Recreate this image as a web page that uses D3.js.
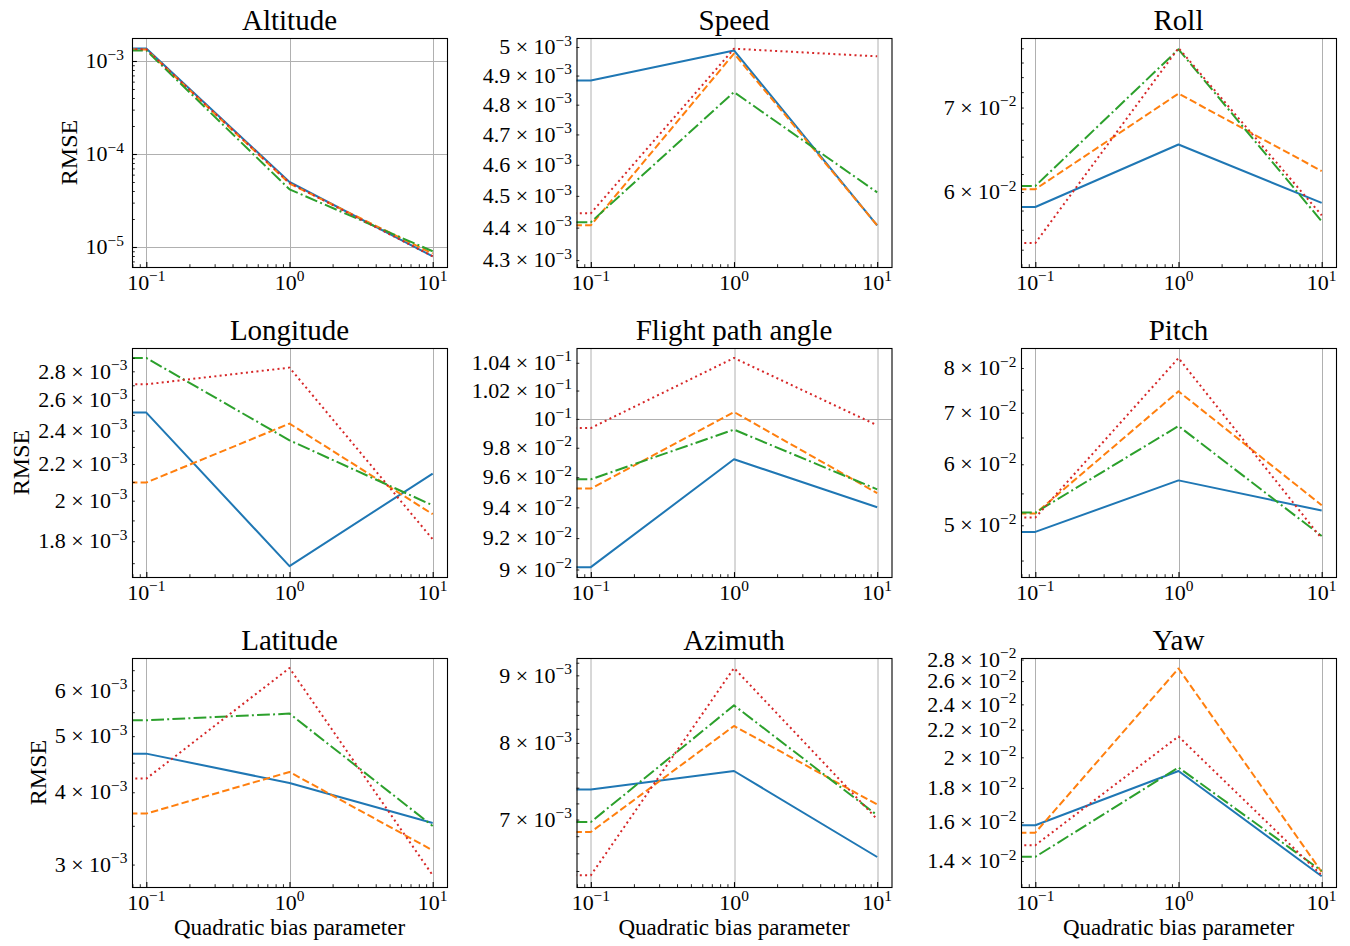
<!DOCTYPE html>
<html>
<head>
<meta charset="utf-8">
<script src="https://cdn.jsdelivr.net/npm/d3@7"></script>
<style>
  body { margin: 0; background: #fff; }
  text { font-family: "Liberation Serif", "DejaVu Serif", serif; fill: #000; }
</style>
</head>
<body>
<svg id="chart" width="1350" height="946"></svg>
<script>
// Quadratic bias parameter values (0 sits off the log axis and is pinned to its left edge)
const biasParameter = [0, 0.1, 1, 10];
const xTickValues = [0.1, 1, 10];

const panelTitles = ["Altitude", "Speed", "Roll",
                     "Longitude", "Flight path angle", "Pitch",
                     "Latitude", "Azimuth", "Yaw"];

// RMSE per series (solid, dashed, dash-dot, dotted), one value per bias parameter
const altitudeRmse = [
  [1.359e-3, 1.359e-3, 5.00e-5, 7.94e-6],
  [1.326e-3, 1.326e-3, 4.81e-5, 8.49e-6],
  [1.300e-3, 1.300e-3, 4.17e-5, 9.00e-6],
  [1.336e-3, 1.336e-3, 4.90e-5, 7.94e-6]
];
const speedRmse = [
  [4.883e-3, 4.883e-3, 4.988e-3, 4.407e-3],
  [4.407e-3, 4.407e-3, 4.977e-3, 4.407e-3],
  [4.417e-3, 4.417e-3, 4.843e-3, 4.511e-3],
  [4.445e-3, 4.445e-3, 4.994e-3, 4.967e-3]
];
const rollRmse = [
  [5.838e-2, 5.838e-2, 6.543e-2, 5.882e-2],
  [6.030e-2, 6.030e-2, 7.181e-2, 6.234e-2],
  [6.066e-2, 6.066e-2, 7.786e-2, 5.687e-2],
  [5.466e-2, 5.466e-2, 7.804e-2, 5.750e-2]
];
const longitudeRmse = [
  [2.515e-3, 2.515e-3, 1.687e-3, 2.146e-3],
  [2.097e-3, 2.097e-3, 2.444e-3, 1.931e-3],
  [2.899e-3, 2.899e-3, 2.340e-3, 1.976e-3],
  [2.707e-3, 2.707e-3, 2.827e-3, 1.809e-3]
];
const flightPathRmse = [
  [9.015e-2, 9.015e-2, 9.721e-2, 9.401e-2],
  [9.524e-2, 9.524e-2, 1.0048e-1, 9.494e-2],
  [9.586e-2, 9.586e-2, 9.925e-2, 9.519e-2],
  [9.936e-2, 9.936e-2, 1.0435e-1, 9.955e-2]
];
const pitchRmse = [
  [4.902e-2, 4.902e-2, 5.718e-2, 5.225e-2],
  [5.178e-2, 5.178e-2, 7.462e-2, 5.309e-2],
  [5.193e-2, 5.193e-2, 6.727e-2, 4.842e-2],
  [5.116e-2, 5.116e-2, 8.242e-2, 4.805e-2]
];
const latitudeRmse = [
  [4.664e-3, 4.664e-3, 4.150e-3, 3.540e-3],
  [3.674e-3, 3.674e-3, 4.336e-3, 3.175e-3],
  [5.326e-3, 5.326e-3, 5.469e-3, 3.498e-3],
  [4.223e-3, 4.223e-3, 6.556e-3, 2.875e-3]
];
const azimuthRmse = [
  [7.377e-3, 7.377e-3, 7.618e-3, 6.558e-3],
  [6.850e-3, 6.850e-3, 8.240e-3, 7.186e-3],
  [6.970e-3, 6.970e-3, 8.541e-3, 7.053e-3],
  [6.352e-3, 6.352e-3, 9.115e-3, 7.003e-3]
];
const yawRmse = [
  [1.583e-2, 1.583e-2, 1.908e-2, 1.328e-2],
  [1.543e-2, 1.543e-2, 2.715e-2, 1.348e-2],
  [1.420e-2, 1.420e-2, 1.931e-2, 1.353e-2],
  [1.478e-2, 1.478e-2, 2.149e-2, 1.333e-2]
];

// y-axis limits
const altitudeLimits   = [6.095e-6, 1.767e-3];
const speedLimits      = [4.279e-3, 5.032e-3];
const rollLimits       = [5.232e-2, 7.948e-2];
const longitudeLimits  = [1.640e-3, 2.975e-3];
const flightPathLimits = [8.953e-2, 1.0508e-1];
const pitchLimits      = [4.284e-2, 8.493e-2];
const latitudeLimits   = [2.744e-3, 6.823e-3];
const azimuthLimits    = [6.224e-3, 9.276e-3];
const yawLimits        = [1.280e-2, 2.815e-2];

// labelled y ticks
const altitudeTicks   = [1e-5, 1e-4, 1e-3];
const speedTicks      = [4.3e-3, 4.4e-3, 4.5e-3, 4.6e-3, 4.7e-3, 4.8e-3, 4.9e-3, 5e-3];
const rollTicks       = [6e-2, 7e-2];
const longitudeTicks  = [1.8e-3, 2.0e-3, 2.2e-3, 2.4e-3, 2.6e-3, 2.8e-3];
const flightPathTicks = [9.0e-2, 9.2e-2, 9.4e-2, 9.6e-2, 9.8e-2, 1e-1, 1.02e-1, 1.04e-1];
const pitchTicks      = [5e-2, 6e-2, 7e-2, 8e-2];
const latitudeTicks   = [3e-3, 4e-3, 5e-3, 6e-3];
const azimuthTicks    = [7e-3, 8e-3, 9e-3];
const yawTicks        = [1.4e-2, 1.6e-2, 1.8e-2, 2.0e-2, 2.2e-2, 2.4e-2, 2.6e-2, 2.8e-2];

const panels = [
  { rmse: altitudeRmse,   limits: altitudeLimits,   ticks: altitudeTicks },
  { rmse: speedRmse,      limits: speedLimits,      ticks: speedTicks },
  { rmse: rollRmse,       limits: rollLimits,       ticks: rollTicks },
  { rmse: longitudeRmse,  limits: longitudeLimits,  ticks: longitudeTicks },
  { rmse: flightPathRmse, limits: flightPathLimits, ticks: flightPathTicks },
  { rmse: pitchRmse,      limits: pitchLimits,      ticks: pitchTicks },
  { rmse: latitudeRmse,   limits: latitudeLimits,   ticks: latitudeTicks },
  { rmse: azimuthRmse,    limits: azimuthLimits,    ticks: azimuthTicks },
  { rmse: yawRmse,        limits: yawLimits,        ticks: yawTicks }
].map((p, i) => ({ ...p, title: panelTitles[i] }));

// series styling
const seriesColors = ["#1f77b4", "#ff7f0e", "#2ca02c", "#d62728"];
const seriesDashes = [null, "7.4,3.2", "12.8,3.2,2,3.2", "2,3.3"];

// grid layout
const W = 315, H = 229;
const originX = 132, originY = 38, colStep = 444.5, rowStep = 310;
const tickFont = 22, supFont = 15.4;

const svg = d3.select("#chart");

const isPow10 = v => Math.abs(Math.log10(v) - Math.round(Math.log10(v))) < 1e-9;

function sciLabel(textSel, v) {
  const e = Math.floor(Math.log10(v) + 1e-9);
  const m = +(v / Math.pow(10, e)).toFixed(2);
  textSel.append("tspan").text(m === 1 ? "10" : `${m} × 10`);
  textSel.append("tspan")
    .attr("font-size", supFont)
    .attr("dy", -8.5)
    .text((e < 0 ? "\u2212" : "") + Math.abs(e));
}

panels.forEach((p, i) => {
  const col = i % 3, row = Math.floor(i / 3);
  const g = svg.append("g")
    .attr("transform", `translate(${originX + col * colStep},${originY + row * rowStep})`);

  const x = d3.scaleLog().domain([Math.pow(10, -1.1), Math.pow(10, 1.1)]).range([0, W]);
  const y = d3.scaleLog().domain(p.limits).range([H, 0]);
  const xPos = v => (v > 0 ? x(v) : x.range()[0] - 2);

  const clipId = `plot-clip-${i}`;
  g.append("clipPath").attr("id", clipId)
    .append("rect").attr("width", W).attr("height", H);

  // grid lines at the decades
  const grid = g.append("g").attr("stroke", "#b0b0b0").attr("stroke-width", 1);
  xTickValues.forEach(v => {
    const px = Math.round(x(v)) + 0.5;
    grid.append("line").attr("x1", px).attr("x2", px).attr("y1", 0).attr("y2", H);
  });
  y.ticks().filter(isPow10).forEach(v => {
    const py = Math.round(y(v)) + 0.5;
    grid.append("line").attr("x1", 0).attr("x2", W).attr("y1", py).attr("y2", py);
  });

  // series
  const line = d3.line()
    .x((d, j) => xPos(biasParameter[j]))
    .y(d => y(d));
  const plot = g.append("g").attr("clip-path", `url(#${clipId})`);
  p.rmse.forEach((vals, k) => {
    plot.append("path")
      .attr("d", line(vals))
      .attr("fill", "none")
      .attr("stroke", seriesColors[k])
      .attr("stroke-width", 2)
      .attr("stroke-linejoin", "round")
      .attr("stroke-dasharray", seriesDashes[k]);
  });

  // inward tick marks
  const xMinor = x.ticks().filter(v => !isPow10(v));
  const yMinor = y.ticks().filter(v => !p.ticks.some(t => Math.abs(t - v) / v < 1e-6));
  const tickMarks = (axisFn, scale, values, size, width) => {
    const a = g.append("g")
      .call(axisFn(scale).tickValues(values).tickSizeInner(-size).tickSizeOuter(0).tickFormat(""));
    a.select(".domain").remove();
    a.selectAll(".tick line").attr("stroke", "#000").attr("stroke-width", width);
    return a;
  };
  tickMarks(d3.axisBottom, x, xTickValues, 4.9, 1.1).attr("transform", `translate(0,${H})`);
  tickMarks(d3.axisBottom, x, xMinor, 2.8, 0.85).attr("transform", `translate(0,${H})`);
  const majorY = p.ticks.every(isPow10);
  tickMarks(d3.axisLeft, y, p.ticks, majorY ? 4.9 : 2.8, majorY ? 1.1 : 0.85);
  if (yMinor.length) tickMarks(d3.axisLeft, y, yMinor, 2.8, 0.85);

  // spines
  g.append("rect")
    .attr("x", 0.5).attr("y", 0.5).attr("width", W).attr("height", H)
    .attr("fill", "none").attr("stroke", "#000").attr("stroke-width", 1.1);

  // x tick labels
  xTickValues.forEach(v => {
    const t = g.append("text")
      .attr("x", x(v)).attr("y", H + 22.5)
      .attr("text-anchor", "middle")
      .attr("font-size", tickFont);
    sciLabel(t, v);
  });

  // y tick labels
  const yLabels = g.append("g");
  p.ticks.forEach(v => {
    const t = yLabels.append("text")
      .attr("x", majorY ? -8 : -4.5).attr("y", y(v) + 7.2)
      .attr("text-anchor", "end")
      .attr("font-size", tickFont);
    sciLabel(t, v);
  });

  // title
  g.append("text")
    .attr("x", W / 2).attr("y", -8.5)
    .attr("text-anchor", "middle")
    .attr("font-size", 29)
    .text(p.title);

  // axis labels
  if (col === 0) {
    const bb = yLabels.node().getBBox();
    g.append("text")
      .attr("transform", `translate(${bb.x - 9},${H / 2}) rotate(-90)`)
      .attr("text-anchor", "middle")
      .attr("font-size", 24)
      .text("RMSE");
  }
  if (row === 2) {
    g.append("text")
      .attr("x", W / 2).attr("y", H + 48.3)
      .attr("text-anchor", "middle")
      .attr("font-size", 23)
      .text("Quadratic bias parameter");
  }
});
</script>
</body>
</html>
